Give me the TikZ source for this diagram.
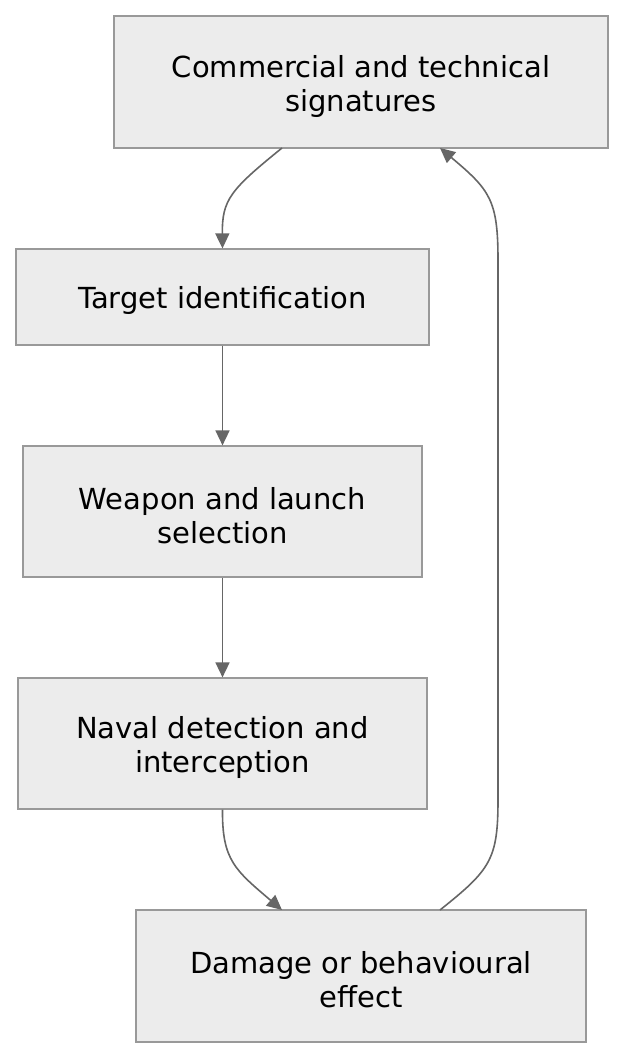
\documentclass[tikz,border=0pt]{standalone}
\usepackage{fontspec}
\setmainfont{DejaVu Sans}
\usetikzlibrary{arrows.meta}
\begin{document}
\begin{tikzpicture}[x=1pt,y=-1pt,
  box/.style={draw=black!40,line width=1.2pt,fill=black!7.5,inner sep=0pt},
  lbl/.style={inner sep=0pt,align=center,yshift=-4pt,font=\fontsize{29}{34}\selectfont},
  conn/.style={draw=black!60,line width=1.6pt,-{Triangle[length=15pt,width=14pt]}}]
\useasboundingbox (0,0) rectangle (625,1060);
\node[box,minimum width=494pt,minimum height=132pt,label={[lbl]center:Commercial and technical\\signatures}] (a) at (361,82) {};
\node[box,minimum width=413pt,minimum height=96pt,label={[lbl,yshift=1pt]center:Target identification}] (b) at (222.5,297) {};
\node[box,minimum width=399pt,minimum height=131pt,label={[lbl]center:Weapon and launch\\selection}] (c) at (222.5,511.5) {};
\node[box,minimum width=409pt,minimum height=131pt,label={[lbl]center:Naval detection and\\interception}] (d) at (222.5,743.5) {};
\node[box,minimum width=450pt,minimum height=132pt,label={[lbl]center:Damage or behavioural\\effect}] (e) at (361,976) {};
\coordinate (a1) at (282,148);
\coordinate (a2) at (440,148);
\coordinate (e1) at (282,910);
\coordinate (e2) at (440,910);
\draw[conn] (a1) .. controls (230,190) and (222,200) .. (b.north);
\draw[conn] (b) -- (c);
\draw[conn] (c) -- (d);
\draw[conn] (d.south) .. controls (222,860) and (235,870) .. (e1);
\draw[conn] (e2) .. controls (490,870) and (498,860) .. (498,800) -- (498,260) .. controls (498,200) and (490,190) .. (a2);
\end{tikzpicture}
\end{document}
